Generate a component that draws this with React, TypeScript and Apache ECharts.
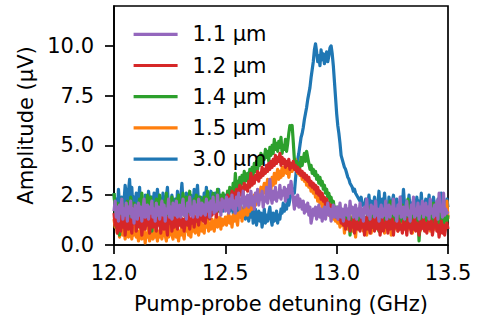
import React, { useEffect, useRef } from "react";
import * as echarts from "echarts";

const X_START = 12.0;
const X_STEP = 0.005;

const seriesNames = ["1.1 µm", "1.2 µm", "1.4 µm", "1.5 µm", "3.0 µm"];
const xTicks = [12.0, 12.5, 13.0, 13.5];
const yTicks = [0, 2.5, 5.0, 7.5, 10.0];

const blue30 = [
  2.6, 1.9, 2.3, 1.5, 2.8, 2.0, 1.7, 2.4, 1.6, 2.2, 3.0, 2.5, 1.9, 2.7, 3.3, 2.1, 2.9, 1.8, 2.4, 2.0,
  2.6, 1.7, 2.2, 2.9, 1.6, 2.3, 2.0, 1.5, 2.5, 2.1, 1.8, 2.7, 2.2, 1.6, 2.4, 1.9, 2.6, 1.7, 2.3, 2.8,
  2.0, 1.5, 2.3, 1.8, 2.6, 2.1, 1.7, 2.4, 2.9, 1.9, 2.2, 1.6, 2.5, 2.0, 1.8, 2.3, 1.5, 2.7, 2.1, 1.9,
  2.4, 3.1, 2.2, 1.7, 2.0, 2.6, 1.8, 2.3, 1.6, 2.5, 2.1, 1.9, 2.8, 2.2, 2.5, 3.0, 2.0, 1.7, 2.4, 2.1,
  1.8, 2.6, 2.2, 2.9, 2.0, 1.6, 2.4, 2.7, 1.9, 2.3, 2.0, 2.6, 1.7, 2.2, 2.8, 1.9, 2.4, 2.1, 1.7, 2.3,
  2.5, 1.9, 2.2, 2.6, 1.7, 2.0, 2.3, 1.6, 2.1, 1.8, 2.4, 1.5, 1.9, 2.2, 1.4, 1.8, 1.6, 2.0, 1.3, 1.7,
  1.9, 1.2, 1.6, 1.4, 2.0, 1.1, 1.5, 1.8, 1.0, 1.4, 1.7, 1.2, 1.6, 0.9, 1.3, 1.8, 1.1, 1.5, 1.2, 1.6,
  1.9, 1.3, 1.0, 1.6, 1.2, 1.4, 1.7, 1.1, 1.5, 1.3, 1.8, 1.6, 2.1, 1.7, 2.0, 1.8, 2.4, 2.0, 2.3, 2.6,
  2.5, 2.8, 2.6, 3.3, 3.9, 4.3, 4.6, 5.0, 5.4, 5.6, 5.9, 6.3, 6.6, 6.9, 7.3, 7.6, 7.9, 8.4, 8.8, 9.2,
  9.8, 10.1, 9.7, 9.2, 9.5, 9.0, 9.8, 9.3, 9.6, 9.1, 9.4, 9.7, 9.2, 9.5, 9.9, 10.0, 9.6, 9.0, 8.2, 7.4,
  6.6, 6.0, 5.6, 5.1, 4.5, 4.3, 4.1, 3.9, 3.8, 3.6, 3.4, 3.3, 3.1, 3.0, 2.9, 2.7, 2.8, 2.6, 2.5, 2.4,
  2.3, 2.2, 2.4, 2.0, 2.1, 1.8, 2.3, 1.9, 2.0, 2.5, 1.8, 2.2, 1.7, 2.0, 2.4, 1.9, 1.6, 2.1, 2.7, 1.8,
  2.0, 2.3, 1.7, 2.6, 1.9, 2.1, 1.6, 2.4, 2.0, 1.8, 2.2, 2.5, 1.7, 2.0, 2.3, 1.8, 2.1, 1.6, 2.4, 1.9,
  2.8, 2.0, 1.7, 2.2, 1.9, 2.5, 1.8, 2.1, 1.6, 2.3, 2.0, 1.7, 2.4, 1.9, 2.2, 1.6, 2.6, 1.8, 2.1, 1.9,
  2.3, 1.7, 2.0, 2.5, 1.8, 2.2, 1.6, 2.4, 1.9, 2.1, 1.7, 2.3, 2.0, 1.8, 2.6, 1.9, 2.2, 1.7, 2.0, 2.3,
  1.9,
];

const orange15 = [
  1.3, 0.9, 1.1, 0.6, 1.0, 0.4, 0.8, 1.2, 0.5, 0.9, 0.3, 0.7, 1.0, 0.4, 0.6, 0.9, 0.3, 0.8, 0.5, 1.1,
  0.4, 0.7, 0.2, 0.6, 0.9, 0.3, 0.5, 0.8, 0.1, 0.6, 0.4, 0.9, 0.2, 0.5, 0.7, 0.3, 0.8, 0.4, 0.6, 0.2,
  0.7, 0.4, 0.9, 0.3, 0.6, 1.0, 0.5, 0.2, 0.8, 0.4, 0.7, 1.1, 0.5, 0.3, 0.9, 0.6, 0.4, 0.8, 0.2, 0.7,
  0.5, 1.0, 0.6, 0.3, 0.9, 0.7, 1.2, 0.5, 0.8, 0.4, 1.0, 0.7, 1.3, 0.6, 0.9, 1.1, 0.5, 0.8, 1.2, 0.7,
  1.0, 0.6, 1.2, 0.9, 1.4, 0.7, 1.1, 0.8, 1.3, 1.0, 0.7, 1.2, 1.5, 0.9, 1.1, 1.4, 0.8, 1.3, 1.0, 1.2,
  1.4, 1.0, 1.3, 1.6, 1.1, 1.4, 0.9, 1.5, 1.2, 1.7, 1.3, 1.0, 1.6, 1.4, 1.9, 1.2, 1.7, 1.5, 2.0, 1.6,
  1.5, 1.9, 1.7, 2.3, 1.8, 2.1, 2.5, 2.0, 2.4, 2.7, 2.2, 2.6, 2.9, 2.4, 2.8, 3.1, 2.6, 3.0, 3.3, 2.9,
  3.2, 2.8, 3.4, 3.0, 3.6, 3.1, 3.5, 3.8, 3.3, 3.7, 3.4, 3.9, 3.5, 3.8, 4.1, 3.6, 3.9, 3.4, 3.8, 4.0,
  3.7, 4.1, 3.8, 4.3, 3.9, 3.6, 4.0, 3.5, 3.7, 3.3, 3.6, 3.2, 3.4, 3.0, 3.3, 2.9, 3.1, 2.7, 3.0, 2.6,
  2.8, 2.4, 2.6, 2.2, 2.5, 2.1, 2.3, 1.9, 2.2, 1.8, 2.0, 1.7, 1.9, 1.5, 1.8, 1.4, 1.7, 1.3, 1.5, 1.2,
  1.4, 1.1, 1.3, 0.9, 1.2, 1.0, 1.4, 0.6, 1.1, 1.3, 0.8, 1.2, 1.0, 1.4, 0.7, 1.1, 0.9, 0.4, 1.2, 1.0,
  1.3, 0.8, 1.1, 1.4, 0.7, 1.0, 1.2, 0.5, 0.9, 1.3, 1.1, 0.6, 1.0, 1.4, 0.8, 1.2, 0.9, 1.5, 0.7, 1.1,
  1.3, 0.9, 1.2, 0.6, 1.0, 1.4, 0.8, 1.1, 1.3, 0.5, 1.0, 1.2, 0.8, 1.4, 1.1, 0.7, 1.3, 0.9, 1.2, 1.5,
  0.9, 1.3, 1.0, 0.7, 1.2, 1.4, 0.8, 1.1, 0.6, 1.3, 1.0, 1.2, 0.9, 1.5, 1.1, 0.7, 1.3, 1.0, 1.2, 0.8,
  1.1, 1.4, 0.9, 1.2, 0.7, 1.3, 1.0, 1.5, 0.8, 1.2, 1.4, 0.9, 1.1, 1.3, 0.7, 1.2, 1.6, 1.0, 1.4, 2.2,
  1.3,
];

const green14 = [
  2.6, 1.8, 0.9, 2.1, 1.5, 0.5, 1.9, 2.3, 1.2, 2.0, 1.6, 0.8, 2.2, 1.7, 1.3, 2.4, 1.9, 1.1, 2.1, 1.5,
  2.0, 0.9, 1.7, 2.3, 1.4, 2.6, 1.8, 1.1, 2.2, 1.6, 2.5, 1.3, 1.9, 2.4, 0.7, 1.8, 2.1, 1.5, 2.3, 1.2,
  1.9, 2.5, 1.4, 2.0, 1.0, 2.2, 1.7, 2.6, 1.5, 2.1, 1.3, 1.8, 2.4, 1.6, 2.0, 1.2, 2.3, 1.8, 2.5, 1.4,
  2.2, 1.7, 2.6, 1.5, 2.0, 2.4, 1.3, 1.9, 2.7, 1.6, 2.1, 1.4, 2.3, 1.8, 2.5, 1.2, 2.0, 2.4, 1.7, 2.2,
  1.8, 2.4, 1.6, 2.2, 2.7, 1.9, 2.3, 1.5, 2.1, 2.6, 1.8, 2.4, 2.0, 2.8, 1.7, 2.2, 2.5, 1.9, 2.6, 2.1,
  2.4, 2.0, 2.7, 2.2, 2.9, 2.5, 2.3, 3.1, 2.6, 3.6, 2.8, 3.2, 2.7, 3.4, 3.0, 3.5, 3.1, 3.7, 3.2, 3.4,
  3.6, 3.1, 3.8, 3.4, 3.9, 3.5, 4.1, 3.7, 4.2, 3.8, 4.4, 4.0, 4.6, 4.1, 4.5, 4.3, 4.8, 4.4, 4.7, 4.2,
  4.9, 4.5, 5.0, 4.6, 5.3, 4.8, 5.1, 4.7, 5.2, 4.9, 5.4, 4.6, 5.0, 4.8, 5.3, 4.7, 5.1, 5.6, 6.0, 5.8,
  6.0, 5.2, 4.3, 3.9, 4.2, 3.7, 4.1, 3.9, 4.4, 4.0, 4.3, 4.6, 4.2, 4.7, 4.4, 4.1, 3.8, 4.0, 3.6, 3.8,
  3.5, 3.7, 3.3, 3.5, 3.1, 3.4, 3.0, 3.2, 2.8, 3.0, 2.6, 2.8, 2.4, 2.6, 2.2, 2.4, 2.0, 2.2, 1.8, 1.9,
  1.7, 1.9, 1.5, 1.7, 1.3, 1.6, 1.2, 1.5, 0.9, 1.4, 1.1, 1.6, 0.5, 1.3, 1.0, 1.5, 1.2, 0.8, 1.4, 1.1,
  1.5, 0.9, 1.3, 1.7, 1.0, 1.4, 0.8, 1.2, 1.6, 1.1, 1.9, 1.3, 0.9, 1.5, 1.2, 1.8, 1.0, 1.4, 0.7, 1.3,
  1.6, 1.1, 1.4, 0.9, 1.8, 1.2, 1.5, 1.0, 2.2, 1.3, 1.6, 0.9, 1.4, 1.1, 1.7, 1.3, 0.8, 1.5, 1.2, 2.0,
  1.3, 1.0, 1.6, 1.2, 2.3, 1.4, 0.9, 1.5, 1.1, 1.7, 1.3, 1.8, 1.0, 1.4, 0.2, 1.2, 1.6, 1.0, 1.5, 1.3,
  1.8, 1.1, 1.5, 0.9, 1.3, 1.7, 1.0, 2.1, 1.4, 1.2, 1.6, 0.9, 1.3, 1.9, 1.1, 1.5, 1.0, 1.4, 1.7, 1.2,
  1.5,
];

const red12 = [
  1.6, 1.0, 1.3, 0.6, 1.8, 1.1, 0.7, 1.4, 0.9, 1.5, 0.5, 1.2, 1.7, 0.8, 1.3, 1.0, 0.6, 1.5, 1.1, 1.9,
  0.7, 1.2, 1.6, 0.9, 1.4, 0.5, 1.1, 1.7, 0.8, 1.3, 1.0, 1.5, 0.6, 1.2, 1.8, 0.9, 1.4, 1.1, 0.7, 1.3,
  1.0, 1.5, 0.6, 1.2, 1.7, 0.8, 1.3, 1.0, 0.5, 1.4, 1.1, 1.6, 0.7, 1.2, 0.9, 1.5, 1.3, 0.8, 1.6, 1.0,
  1.4, 0.9, 1.3, 0.7, 1.2, 1.6, 1.0, 1.5, 0.8, 1.3, 1.1, 1.7, 0.9, 1.4, 1.2, 1.6, 1.0, 1.5, 1.3, 1.8,
  1.2, 1.6, 1.1, 1.8, 1.4, 2.0, 1.3, 1.7, 1.5, 2.1, 1.6, 1.9, 1.4, 2.2, 1.8, 2.0, 1.7, 2.3, 1.9, 2.1,
  2.2, 1.8, 2.5, 2.1, 2.4, 2.0, 2.7, 2.3, 2.6, 2.2, 2.8, 2.4, 2.7, 3.0, 2.5, 2.9, 2.6, 3.1, 2.8, 3.0,
  2.7, 3.2, 2.9, 3.6, 3.0, 3.4, 3.1, 3.5, 3.3, 3.7, 3.2, 3.6, 3.4, 3.9, 3.5, 3.8, 3.6, 4.0, 3.7, 4.1,
  3.8, 4.2, 3.9, 4.3, 4.0, 4.5, 4.1, 4.4, 4.2, 4.6, 4.0, 4.4, 4.1, 4.3, 3.9, 4.2, 4.0, 4.3, 3.8, 4.1,
  3.9, 4.2, 3.8, 4.0, 3.7, 3.9, 3.6, 3.8, 3.5, 3.7, 3.4, 3.6, 3.3, 3.5, 3.2, 3.4, 3.0, 3.2, 2.9, 3.1,
  2.8, 3.0, 2.6, 2.9, 2.5, 2.7, 2.3, 2.6, 2.2, 2.4, 2.0, 2.3, 1.9, 2.1, 1.8, 2.0, 1.6, 1.9, 1.5, 1.7,
  1.4, 1.6, 1.3, 1.5, 1.1, 1.4, 1.0, 1.3, 0.8, 1.2, 1.0, 1.4, 0.7, 1.1, 0.9, 1.3, 0.6, 1.0, 1.2, 0.8,
  1.1, 0.7, 1.3, 0.9, 1.2, 0.5, 1.0, 1.4, 0.8, 1.1, 0.6, 1.2, 0.9, 1.3, 0.7, 1.0, 1.4, 0.8, 1.1, 0.5,
  1.0, 1.3, 0.7, 1.1, 0.9, 1.4, 0.6, 1.2, 0.8, 1.0, 1.3, 0.5, 1.1, 0.9, 1.4, 0.7, 1.2, 0.8, 1.0, 0.6,
  1.2, 0.8, 1.1, 0.5, 1.3, 0.9, 1.0, 0.6, 1.2, 0.8, 1.4, 0.7, 1.1, 0.9, 0.5, 1.2, 0.8, 1.0, 1.3, 0.7,
  1.1, 0.6, 1.0, 1.3, 0.8, 1.2, 0.5, 0.9, 1.1, 1.4, 0.7, 1.0, 0.4, 0.8, 1.2, 0.6, 1.0, 0.5, 0.9, 1.1,
  0.8,
];

const purple11 = [
  1.7, 2.2, 1.4, 1.9, 1.2, 2.0, 1.6, 2.3, 1.3, 1.8, 1.5, 2.1, 1.2, 1.9, 1.6, 2.2, 1.4, 1.8, 1.1, 2.0,
  1.6, 1.3, 2.1, 1.5, 1.9, 1.2, 1.8, 2.3, 1.4, 1.7, 2.0, 1.3, 1.9, 1.6, 2.2, 1.4, 1.8, 1.2, 2.1, 1.5,
  1.9, 1.3, 1.7, 2.2, 1.5, 2.0, 1.2, 1.8, 1.6, 2.3, 1.4, 1.9, 1.3, 2.1, 1.7, 1.5, 2.2, 1.4, 1.8, 2.0,
  1.4, 1.9, 2.3, 1.5, 1.8, 1.3, 2.1, 1.7, 2.4, 1.5, 1.9, 1.4, 2.2, 1.6, 2.0, 1.4, 2.3, 1.7, 1.5, 2.1,
  1.6, 2.0, 1.5, 2.3, 1.7, 2.1, 1.4, 2.2, 1.8, 2.4, 1.6, 2.0, 1.7, 2.5, 1.8, 2.1, 1.5, 2.3, 1.9, 2.2,
  1.7, 2.4, 2.0, 1.6, 2.3, 1.9, 2.5, 1.8, 2.2, 1.6, 2.4, 2.0, 2.6, 1.8, 2.3, 2.1, 2.7, 1.9, 2.4, 2.0,
  2.5, 1.9, 2.3, 2.7, 2.0, 2.4, 1.8, 2.6, 2.2, 2.8, 2.0, 2.5, 2.3, 2.7, 1.9, 2.4, 2.2, 2.9, 2.1, 2.6,
  3.3, 2.4, 2.1, 2.7, 2.3, 2.9, 2.2, 2.6, 2.4, 3.0, 2.3, 2.7, 2.5, 2.9, 2.2, 2.8, 2.4, 3.0, 2.6, 3.2,
  2.7, 2.3, 1.8, 2.4, 2.0, 2.5, 1.9, 2.3, 2.1, 1.8, 2.2, 1.6, 2.0, 1.7, 2.1, 1.5, 1.9, 1.1, 1.4, 1.8,
  1.5, 1.9, 1.3, 1.7, 2.0, 1.4, 1.8, 1.2, 1.6, 1.9, 1.3, 1.7, 2.1, 1.5, 1.8, 1.2, 1.6, 2.0, 1.4, 1.7,
  1.9, 1.3, 1.6, 2.1, 1.4, 1.8, 1.2, 1.7, 2.0, 1.5, 1.8, 1.3, 2.2, 1.6, 1.9, 1.4, 1.7, 2.0, 1.3, 1.8,
  1.5, 2.1, 1.4, 1.8, 1.2, 1.9, 1.6, 2.3, 1.5, 1.7, 1.3, 2.0, 1.6, 1.9, 1.4, 2.2, 1.5, 1.8, 1.2, 1.7,
  2.0, 1.4, 1.8, 1.5, 2.2, 1.3, 1.7, 2.0, 1.4, 1.9, 1.6, 2.3, 1.5, 1.8, 1.2, 2.0, 1.6, 2.4, 1.4, 1.7,
  1.9, 1.3, 1.8, 2.2, 1.5, 1.7, 1.2, 2.0, 1.6, 2.4, 1.4, 1.8, 1.5, 2.1, 1.3, 1.9, 1.6, 2.2, 1.4, 1.8,
  2.1, 1.5, 1.9, 1.3, 2.3, 1.6, 1.8, 1.4, 2.0, 1.5, 2.2, 1.3, 2.6, 1.7, 1.9, 1.4, 2.6, 1.5, 1.8, 1.6,
  1.7,
];

const colors: Record<string, string> = {
  "1.1 µm": "#9467bd",
  "1.2 µm": "#d62728",
  "1.4 µm": "#2ca02c",
  "1.5 µm": "#ff7f0e",
  "3.0 µm": "#1f77b4",
};

const FONT = "DejaVu Sans";
const FS = 21;
const LW = 3.2;

function toPairs(vals: number[]) {
  return vals.map((v, i) => [X_START + i * X_STEP, v]);
}

export default function App() {
  const ref = useRef<HTMLDivElement>(null);
  useEffect(() => {
    if (!ref.current) return;
    const chart = echarts.init(ref.current, undefined, { renderer: "svg" });
    // drawing order: 3.0 first (bottom), 1.1 last (top)
    const order: [string, number[]][] = [
      ["3.0 µm", blue30],
      ["1.5 µm", orange15],
      ["1.4 µm", green14],
      ["1.2 µm", red12],
      ["1.1 µm", purple11],
    ];
    chart.setOption({
      animation: false,
      backgroundColor: "#ffffff",
      grid: {
        left: 114,
        right: 30,
        top: 6,
        bottom: 77,
        show: true,
        borderColor: "#000",
        borderWidth: 1.7,
        backgroundColor: "transparent",
      },
      legend: {
        data: seriesNames,
        orient: "vertical",
        left: 132,
        top: 23.8,
        itemWidth: 44,
        itemHeight: 21,
        itemGap: 10.2,
        padding: 0,
        itemStyle: { color: "rgba(0,0,0,0)", borderWidth: 0, opacity: 0 },
        lineStyle: { width: LW },
        textStyle: {
          fontFamily: FONT,
          fontSize: FS,
          lineHeight: 21,
          color: "#000",
          padding: [0, 0, 0, 10],
        },
      },
      xAxis: {
        type: "value",
        min: 12.0,
        max: 13.5,
        interval: 0.5,
        name: "Pump-probe detuning (GHz)",
        nameLocation: "middle",
        nameGap: 48,
        nameTextStyle: { fontFamily: FONT, fontSize: FS, color: "#000" },
        axisLine: { show: true, lineStyle: { color: "#000", width: 1.7 } },
        axisTick: {
          show: true,
          length: 9,
          inside: false,
          lineStyle: { color: "#000", width: 1.7 },
          customValues: xTicks,
        },
        axisLabel: {
          fontFamily: FONT,
          fontSize: FS,
          color: "#000",
          margin: 17.5,
          customValues: xTicks,
          formatter: (v: number) => v.toFixed(1),
        },
        splitLine: { show: false },
      },
      yAxis: {
        type: "value",
        min: 0,
        max: 12,
        interval: 2.5,
        name: "Amplitude (µV)",
        nameLocation: "middle",
        nameGap: 78,
        nameTextStyle: { fontFamily: FONT, fontSize: FS, color: "#000" },
        axisLine: { show: true, lineStyle: { color: "#000", width: 1.7 } },
        axisTick: {
          show: true,
          length: 9,
          inside: false,
          lineStyle: { color: "#000", width: 1.7 },
          customValues: yTicks,
        },
        axisLabel: {
          fontFamily: FONT,
          fontSize: FS,
          color: "#000",
          margin: 20,
          customValues: yTicks,
          formatter: (v: number) => v.toFixed(1),
        },
        splitLine: { show: false },
      },
      series: order.map(([name, vals]) => ({
        name,
        type: "line",
        data: toPairs(vals),
        symbol: "none",
        showSymbol: false,
        lineStyle: { width: LW, color: colors[name], join: "round" },
        itemStyle: { color: colors[name] },
        color: colors[name],
        emphasis: { disabled: true },
      })),
    });
    return () => chart.dispose();
  }, []);
  return <div ref={ref} style={{ width: 478, height: 322, position: "absolute", left: 0, top: 0 }} />;
}
